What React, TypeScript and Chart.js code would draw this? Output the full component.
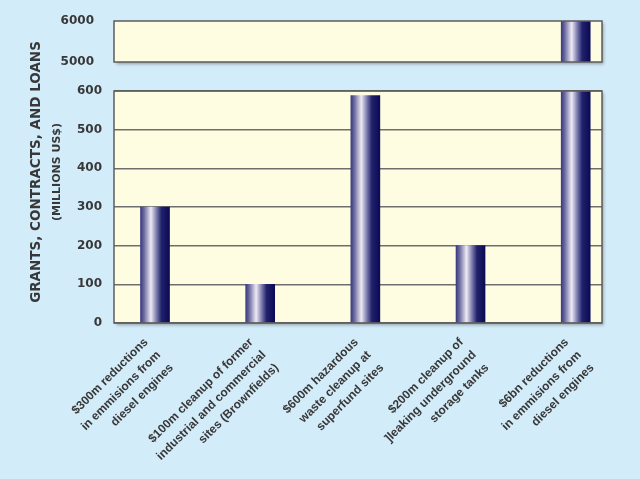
import React, { useEffect, useRef } from 'react';
import { Chart, registerables } from 'chart.js';

Chart.register(...registerables);

// ---- data ----
const categories: string[][] = [
  ['$300m reductions', 'in emmisions from', 'diesel engines'],
  ['$100m cleanup of former', 'industrial and commercial', 'sites (Brownfields)'],
  ['$600m hazardous', 'waste cleanup at', 'superfund sites'],
  ['$200m cleanup of', ']leaking underground', 'storage tanks'],
  ['$6bn reductions', 'in emmisions from', 'diesel engines'],
];
const values = [300, 100, 588, 200, 6000];
const lowerTicks = [0, 100, 200, 300, 400, 500, 600];
const upperTicks = [5000, 6000];
const yTitle = 'GRANTS, CONTRACTS, AND LOANS';
const ySubTitle = '(MILLIONS US$)';

const LOW_MAX = 600;
const HIGH_MIN = 5000;
const HIGH_MAX = 6000;

const BG = '#D3ECF9';
const PANEL = '#FFFDE1';
const BORDER = '#5c5c5c';
const TEXT = '#383838';
const BAR_W = 29;

const lowerData = values.map((v, i) => ({ x: i, y: [0, Math.min(v, LOW_MAX)] }));
const upperData = values.map((v, i) => ({ x: i, y: v > HIGH_MIN ? [HIGH_MIN, Math.min(v, HIGH_MAX)] : null }));

function barFill(ctx: any) {
  const chart = ctx.chart;
  const xs = chart.scales && chart.scales.x;
  if (!xs || ctx.dataIndex == null) return '#22226a';
  const cx = xs.getPixelForValue(ctx.dataIndex);
  if (!Number.isFinite(cx)) return '#22226a';
  const g = chart.ctx.createLinearGradient(cx - BAR_W / 2, 0, cx + BAR_W / 2, 0);
  g.addColorStop(0, '#3a3a80');
  g.addColorStop(0.12, '#6a6aa0');
  g.addColorStop(0.36, '#eeeaf4');
  g.addColorStop(0.55, '#7c7cae');
  g.addColorStop(0.72, '#22226c');
  g.addColorStop(1, '#0b0b55');
  return g;
}

const panelPlugin = {
  id: 'panels',
  beforeDraw(chart: any) {
    const { ctx, width, height } = chart;
    ctx.save();
    ctx.fillStyle = BG;
    ctx.fillRect(0, 0, width, height);
    const xs = chart.scales.x;
    ['yHigh', 'yLow'].forEach((id) => {
      const s = chart.scales[id];
      ctx.save();
      ctx.shadowColor = 'rgba(60,60,60,0.45)';
      ctx.shadowBlur = 3;
      ctx.shadowOffsetX = 1.5;
      ctx.shadowOffsetY = 2;
      ctx.fillStyle = PANEL;
      ctx.fillRect(xs.left, s.top, xs.right - xs.left, s.bottom - s.top);
      ctx.restore();
    });
    // y title
    const ca = chart.chartArea;
    const cy = (ca.top + ca.bottom) / 2;
    ctx.fillStyle = TEXT;
    ctx.textAlign = 'center';
    ctx.textBaseline = 'middle';
    ctx.save();
    ctx.translate(36, cy);
    ctx.rotate(-Math.PI / 2);
    ctx.font = 'bold 13.5px "DejaVu Sans", sans-serif';
    ctx.fillText(yTitle, 0, 0);
    ctx.restore();
    ctx.save();
    ctx.translate(57, cy);
    ctx.rotate(-Math.PI / 2);
    ctx.font = 'bold 11px "DejaVu Sans", sans-serif';
    ctx.fillText(ySubTitle, 0, 0);
    ctx.restore();
    ctx.restore();
  },
  afterDatasetsDraw(chart: any) {
    const { ctx } = chart;
    const xs = chart.scales.x;
    ctx.save();
    ctx.strokeStyle = BORDER;
    ctx.lineWidth = 1.5;
    ['yHigh', 'yLow'].forEach((id) => {
      const s = chart.scales[id];
      ctx.strokeRect(xs.left, s.top, xs.right - xs.left, s.bottom - s.top);
    });
    ctx.restore();
  },
};

const tickFont = { family: '"DejaVu Sans", sans-serif', size: 12, weight: 'bold' as const };
const labelFont = { family: '"Liberation Sans", Arial, sans-serif', size: 12, weight: 'bold' as const, lineHeight: 1.5 };

export default function App() {
  const ref = useRef<HTMLCanvasElement | null>(null);
  useEffect(() => {
    if (!ref.current) return;
    const chart = new Chart(ref.current, {
      type: 'bar',
      data: {
        datasets: [
          {
            label: 'lower',
            data: lowerData as any,
            yAxisID: 'yLow',
            xAxisID: 'x',
            backgroundColor: barFill as any,
            borderWidth: 0,
            barThickness: BAR_W,
            grouped: false,
          } as any,
          {
            label: 'upper',
            data: upperData as any,
            yAxisID: 'yHigh',
            xAxisID: 'x',
            backgroundColor: barFill as any,
            borderWidth: 0,
            barThickness: BAR_W,
            grouped: false,
          } as any,
        ],
      },
      options: {
        responsive: false,
        animation: false,
        devicePixelRatio: 1,
        layout: { padding: { top: 21, right: 38, left: 54, bottom: 0 } },
        plugins: { legend: { display: false }, tooltip: { enabled: false } },
        scales: {
          x: {
            type: 'linear',
            position: 'bottom',
            offset: false,
            min: -0.39,
            max: 4.25,
            grid: { display: false },
            border: { display: false },
            afterBuildTicks: (s: any) => {
              s.ticks = categories.map((_, i) => ({ value: i }));
            },
            afterFit: (s: any) => {
              s.height = 156;
            },
            ticks: {
              autoSkip: false,
              minRotation: 45,
              maxRotation: 45,
              padding: 3,
              labelOffset: -9,
              color: TEXT,
              font: labelFont,
              callback: (_v: any, i: number) => categories[i],
            },
          },
          yLow: {
            type: 'linear',
            position: 'left',
            stack: 'y',
            stackWeight: 232,
            weight: 1,
            min: 0,
            max: LOW_MAX,
            afterBuildTicks: (s: any) => {
              s.ticks = lowerTicks.map((v) => ({ value: v }));
            },
            afterFit: (s: any) => {
              s.width = 60;
            },
            grid: { color: '#6e6e6e', lineWidth: 1.5, drawTicks: false },
            border: { display: false },
            ticks: { padding: 12, color: TEXT, font: tickFont, callback: (v: any) => String(v) },
          },
          ySpace: {
            type: 'linear',
            position: 'left',
            stack: 'y',
            stackWeight: 29,
            weight: 2,
            min: 0,
            max: 1,
            afterFit: (s: any) => {
              s.width = 60;
            },
            grid: { display: false },
            border: { display: false },
            ticks: { display: false },
          },
          yHigh: {
            type: 'linear',
            position: 'left',
            stack: 'y',
            stackWeight: 41,
            weight: 3,
            min: HIGH_MIN,
            max: HIGH_MAX,
            afterBuildTicks: (s: any) => {
              s.ticks = upperTicks.map((v) => ({ value: v }));
            },
            afterFit: (s: any) => {
              s.width = 60;
            },
            grid: { display: false },
            border: { display: false },
            ticks: { padding: 12, color: TEXT, font: tickFont, callback: (v: any) => String(v) },
          },
        } as any,
      },
      plugins: [panelPlugin],
    });
    return () => chart.destroy();
  }, []);

  return (
    <div style={{ position: 'fixed', left: 0, top: 0, width: 640, height: 479, background: BG }}>
      <canvas ref={ref} width={640} height={479} />
    </div>
  );
}
